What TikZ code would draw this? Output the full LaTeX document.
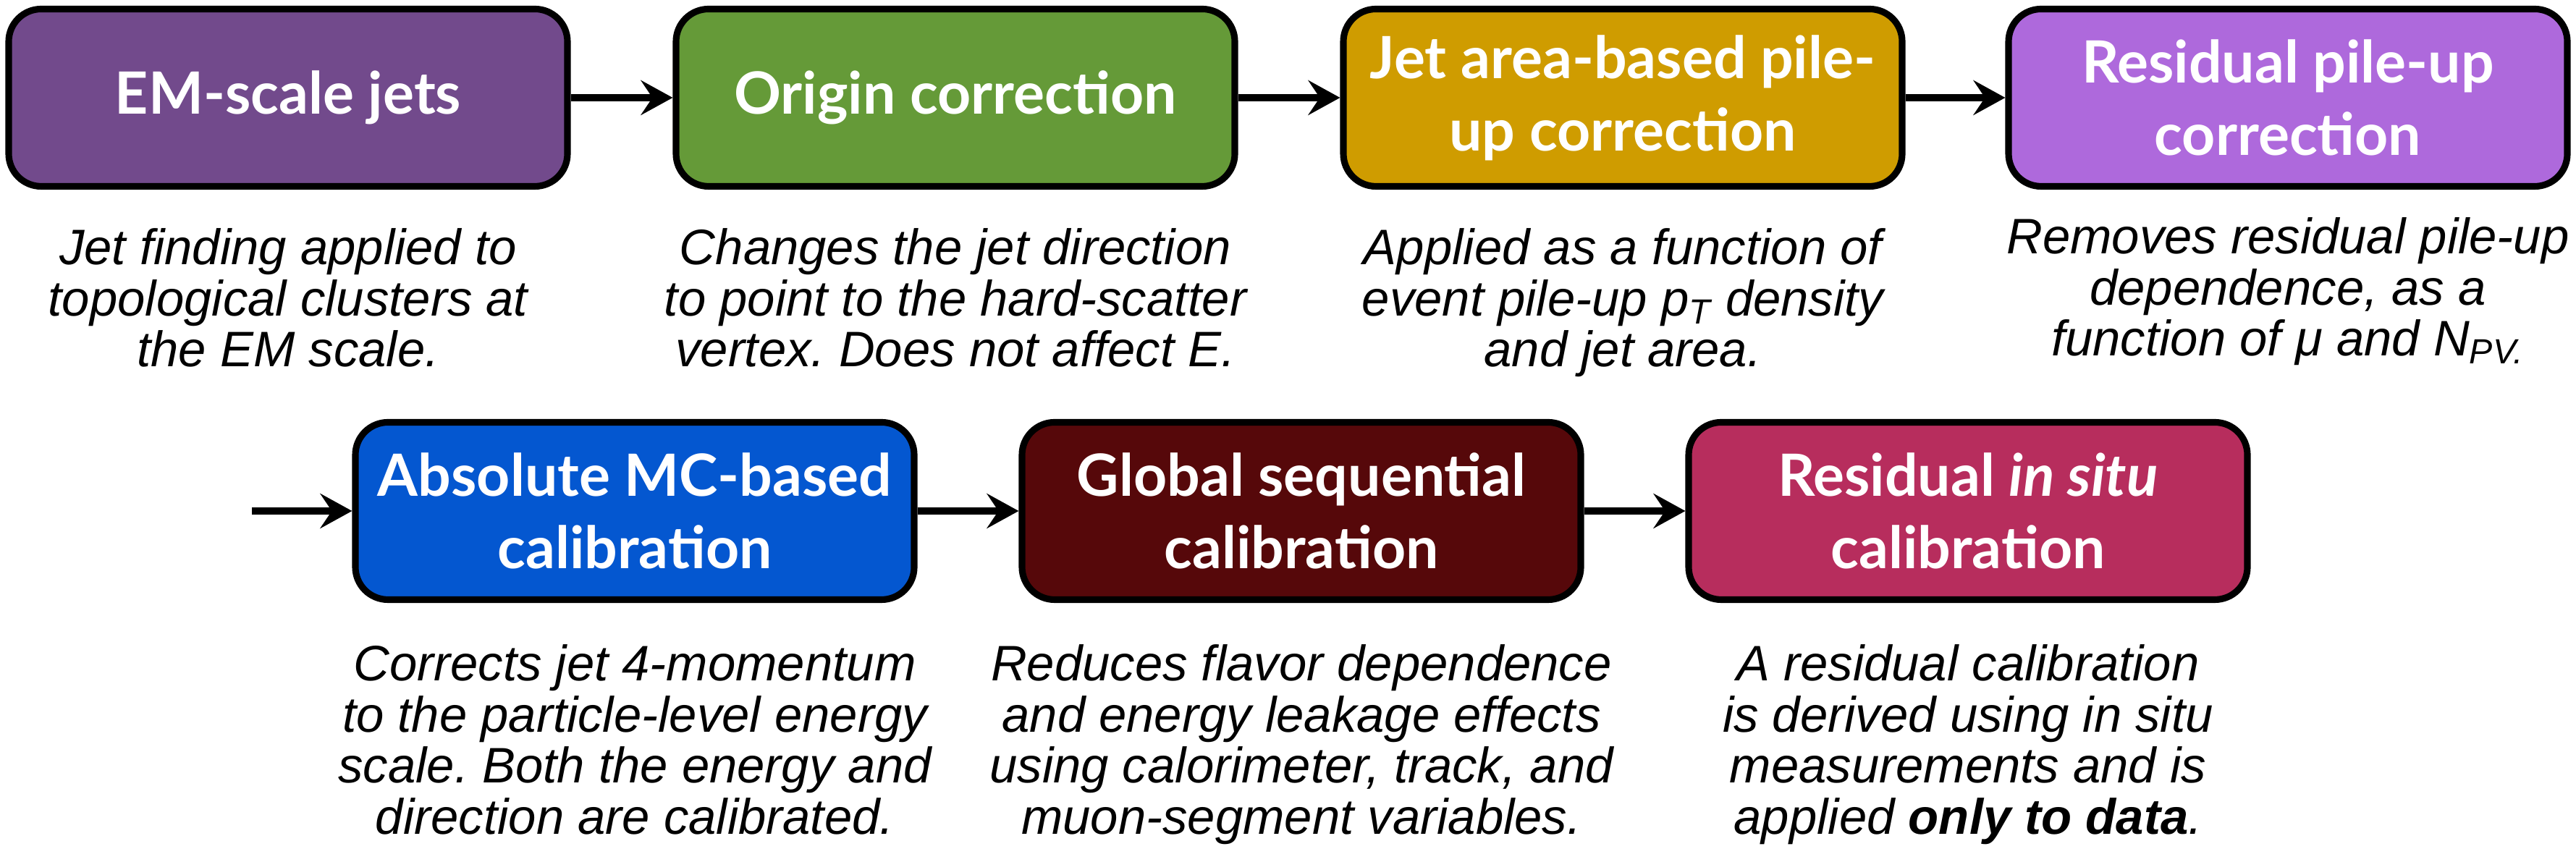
\documentclass[tikz,border=0pt]{standalone}
\usepackage{fontspec}
\setmainfont{Liberation Sans}
\newfontfamily\stagefont{Lato}
\usetikzlibrary{arrows.meta}
\frenchspacing
\definecolor{emcol}{RGB}{114,74,140}
\definecolor{origincol}{RGB}{101,154,56}
\definecolor{areacol}{RGB}{207,156,0}
\definecolor{residcol}{RGB}{174,105,220}
\definecolor{mccol}{RGB}{4,87,208}
\definecolor{gsccol}{RGB}{86,8,10}
\definecolor{insitucol}{RGB}{183,45,93}
\begin{document}
\begin{tikzpicture}[>={Stealth[length=4.4mm,width=4.8mm,inset=1.6mm]},
  stage/.style={draw, line width=2.6pt, rounded corners=4.5mm, minimum width=7.72cm, minimum height=2.45cm,
    align=center, text=white, font=\stagefont\bfseries\fontsize{22.9pt}{28.4pt}\selectfont},
  note/.style={anchor=north, align=center, inner sep=0pt, font=\itshape\fontsize{19.6pt}{20.1pt}\selectfont},
  link/.style={->, line width=2.6pt}]
\useasboundingbox (0,0) rectangle (35.59,11.73);

\node[stage, fill=emcol] (emjets) at (3.98,10.38) {EM-scale jets};
\node[stage, fill=origincol] (origin) at (13.20,10.38) {Origin correction};
\node[stage, fill=areacol] (area) at (22.42,10.38) {Jet area-based pile-\\up correction};
\node[stage, fill=residcol] (resid) at (31.61,10.38) {Residual pile-up\\correction};

\node[stage, fill=mccol] (absmc) at (8.77,4.67) {Absolute MC-based\\calibration};
\node[stage, fill=gsccol] (gsc) at (17.98,4.67) {Global sequential\\calibration};
\node[stage, fill=insitucol] (insitu) at (27.19,4.67) {Residual \textit{in situ}\\calibration};

\node[note] (emtxt) at (3.98,8.58) {Jet finding applied to\\topological clusters at\\the EM scale.};
\node[note] (origintxt) at (13.20,8.58) {Changes the jet direction\\to point to the hard-scatter\\vertex. Does not affect E.};
\node[note] (areatxt) at (22.42,8.58) {Applied as a function of\\event pile-up p\textsubscript{T} density\\and jet area.};
\node[note] (residtxt) at (31.61,8.73) {Removes residual pile-up\\dependence, as a\\function of μ and N\textsubscript{PV.}};

\node[note] (absmctxt) at (8.77,2.83) {Corrects jet 4-momentum\\to the particle-level energy\\scale. Both the energy and\\direction are calibrated.};
\node[note] (gsctxt) at (17.98,2.83) {Reduces flavor dependence\\and energy leakage effects\\using calorimeter, track, and\\muon-segment variables.};
\node[note] (insitutxt) at (27.19,2.83) {A residual calibration\\is derived using in situ\\measurements and is\\applied \textbf{only to data}.};

\coordinate (wrap) at (3.48,4.67);

\draw[link] (emjets) -- (origin);
\draw[link] (origin) -- (area);
\draw[link] (area) -- (resid);
\draw[link] (wrap) -- (absmc);
\draw[link] (absmc) -- (gsc);
\draw[link] (gsc) -- (insitu);
\end{tikzpicture}
\end{document}
